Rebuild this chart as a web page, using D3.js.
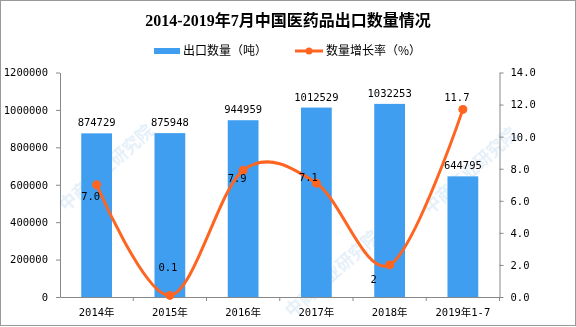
<!DOCTYPE html>
<html><head><meta charset="utf-8">
<script src="https://cdn.jsdelivr.net/npm/d3@7"></script>
<style>body{margin:0;background:#fff}</style>
</head><body><svg id="c" width="576" height="327"></svg>
<script>
const categories = ["2014年","2015年","2016年","2017年","2018年","2019年1-7"];
const exportVolume = [874729, 875948, 944959, 1012529, 1032253, 644795];
const growthRate = [7.0, 0.1, 7.9, 7.1, 2, 11.7];
const growthLabels = ["7.0", "0.1", "7.9", "7.1", "2", "11.7"];
const leftTicks = [0, 200000, 400000, 600000, 800000, 1000000, 1200000];
const rightTicks = [0, 2, 4, 6, 8, 10, 12, 14];
const titleText = "2014-2019年7月中国医药品出口数量情况";
const legendBar = "出口数量（吨）";
const legendLine = "数量增长率（%）";

const BLUE = "#3f9ef0", ORANGE = "#fe6520", AXIS = "#888";
const numFont = "'DejaVu Sans Mono','Noto Sans CJK SC',monospace";
const cjkFont = "'Noto Sans CJK SC',sans-serif";

const svg = d3.select("#c");
const L = 60, R = 499.5, T = 72.5, B = 297;

// watermark
const wm = svg.append("g").attr("fill", "#dbeaf7").attr("font-family", cjkFont)
  .attr("font-size", 17).attr("font-weight", "bold").attr("opacity", 0.75);
[[66,212],[292,318],[430,215]].forEach(p => {
  wm.append("text").attr("transform", `translate(${p[0]},${p[1]}) rotate(-42)`).text("中商产业研究院");
});

// border
svg.append("rect").attr("x",0.5).attr("y",0.5).attr("width",575).attr("height",325)
  .attr("fill","none").attr("stroke","#999");

const x = d3.scaleBand().domain(categories).range([L, R]).padding(0);
const yL = d3.scaleLinear().domain([0, 1200000]).range([B, T]);
const yR = d3.scaleLinear().domain([0, 14]).range([B, T]);
const bw = x.bandwidth() * 0.42;

// bars
svg.append("g").selectAll("rect").data(exportVolume).join("rect")
  .attr("x", (d,i) => x(categories[i]) + x.bandwidth()/2 - bw/2)
  .attr("y", d => yL(d)).attr("width", bw).attr("height", d => B - yL(d))
  .attr("fill", BLUE);

// bar labels
svg.append("g").selectAll("text").data(exportVolume).join("text")
  .attr("x", (d,i) => x(categories[i]) + x.bandwidth()/2)
  .attr("y", d => yL(d) - 7).attr("text-anchor","middle")
  .attr("font-family", numFont).attr("font-size", 10.5).attr("fill","#000")
  .text(d => d);

// axes
function styleAxis(g){ g.selectAll("path,line").attr("stroke", AXIS); g.selectAll("text").attr("fill","#000"); }
svg.append("g").attr("transform",`translate(${L},0)`)
  .call(d3.axisLeft(yL).tickValues(leftTicks).tickSize(4).tickPadding(8).tickSizeOuter(0).tickFormat(d3.format("d")))
  .call(styleAxis).attr("font-family", numFont).attr("font-size", 10.5);
svg.append("g").attr("transform",`translate(${R},0)`)
  .call(d3.axisRight(yR).tickValues(rightTicks).tickSize(4).tickPadding(7).tickSizeOuter(0).tickFormat(d3.format(".1f")))
  .call(styleAxis).attr("font-family", numFont).attr("font-size", 10.5);
const xa = svg.append("g").attr("transform",`translate(0,${B})`)
  .call(d3.axisBottom(x).tickSize(0).tickPadding(12).tickSizeOuter(0))
  .call(styleAxis).attr("font-family", numFont).attr("font-size", 10.5);
xa.selectAll(".tick line").remove();
svg.append("g").selectAll("line").data(categories).join("line")
  .attr("x1", (d,i) => x(categories[i]) + x.bandwidth()).attr("x2", (d,i) => x(categories[i]) + x.bandwidth())
  .attr("y1", B).attr("y2", B + 4).attr("stroke", AXIS);

// line
const pts = growthRate.map((v,i) => [x(categories[i]) + x.bandwidth()/2, yR(v)]);
svg.append("path").attr("d", d3.line().curve(d3.curveCatmullRom.alpha(0))(pts))
  .attr("fill","none").attr("stroke", ORANGE).attr("stroke-width", 3);
svg.append("g").selectAll("circle").data(pts).join("circle")
  .attr("cx", d => d[0]).attr("cy", d => d[1]).attr("r", 4.5).attr("fill", ORANGE);

// line labels (placement offsets as in the original)
const off = [[-6,12],[-2,-28],[-6,8],[-8,-6],[-16,14],[-6,-12]];
svg.append("g").selectAll("text").data(growthLabels).join("text")
  .attr("x", (d,i) => pts[i][0] + off[i][0]).attr("y", (d,i) => pts[i][1] + off[i][1])
  .attr("dy","0.35em").attr("text-anchor","middle")
  .attr("font-family", numFont).attr("font-size", 10.5).attr("fill","#000").text(d => d);

// title
svg.append("text").attr("x", 288).attr("y", 26).attr("text-anchor","middle")
  .attr("font-family","'Liberation Serif','Noto Sans CJK SC',serif").attr("font-weight","bold")
  .attr("font-size", 16).attr("fill","#000").text(titleText);

// legend
svg.append("rect").attr("x",154).attr("y",48).attr("width",26).attr("height",6).attr("fill",BLUE);
svg.append("text").attr("x",183).attr("y",51).attr("dy","0.35em").attr("font-family",cjkFont)
  .attr("font-size",12).attr("fill","#000").text(legendBar);
svg.append("line").attr("x1",295).attr("x2",323).attr("y1",51).attr("y2",51).attr("stroke",ORANGE).attr("stroke-width",3);
svg.append("circle").attr("cx",309).attr("cy",51).attr("r",3.5).attr("fill",ORANGE);
svg.append("text").attr("x",326).attr("y",51).attr("dy","0.35em").attr("font-family",cjkFont)
  .attr("font-size",12).attr("fill","#000").text(legendLine);
</script></body></html>
